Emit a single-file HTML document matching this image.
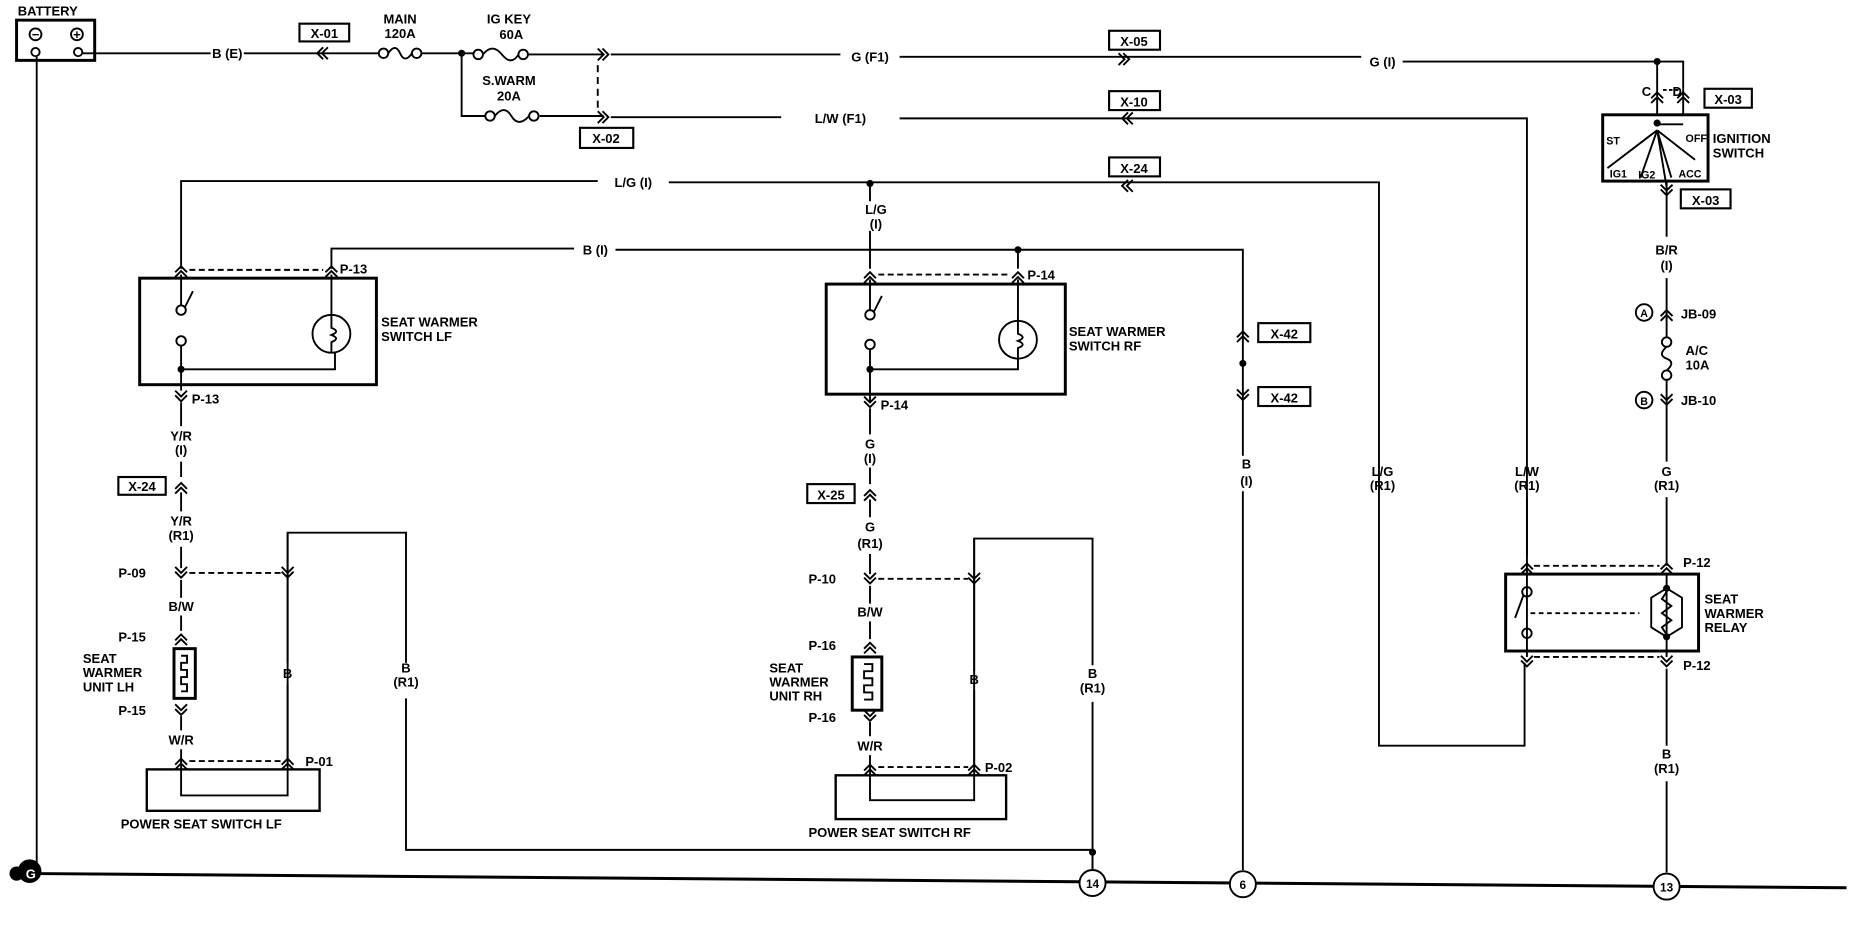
<!DOCTYPE html>
<html><head><meta charset="utf-8"><style>
html,body{margin:0;padding:0;background:#fff;width:1856px;height:928px;overflow:hidden}
svg{display:block}
text{font-family:"Liberation Sans",sans-serif;font-weight:bold;font-size:11px;fill:#000}
.m{text-anchor:middle}
</style></head><body>
<svg width="1856" height="928" viewBox="0 0 1568 784" preserveAspectRatio="none" xmlns="http://www.w3.org/2000/svg">
<defs>
<g id="up"><path d="M-5 3 L0 -2 L5 3 M-5 7 L0 2 L5 7" fill="none" stroke="#000" stroke-width="1.6"/></g>
<g id="dn"><path d="M-5 -3 L0 2 L5 -3 M-5 -7 L0 -2 L5 -7" fill="none" stroke="#000" stroke-width="1.6"/></g>
<g id="lt"><path d="M3 -5 L-2 0 L3 5 M7 -5 L2 0 L7 5" fill="none" stroke="#000" stroke-width="1.6"/></g>
<g id="rt"><path d="M-3 -5 L2 0 L-3 5 M-7 -5 L-2 0 L-7 5" fill="none" stroke="#000" stroke-width="1.6"/></g>
</defs>
<g fill="none" stroke="#000" stroke-width="1.6">
<!-- battery -->
<rect x="14" y="17" width="66" height="34" stroke-width="2.5"/>
<circle cx="30" cy="29" r="5"/><circle cx="65" cy="29" r="5"/>
<circle cx="30" cy="44" r="3.5"/><circle cx="66" cy="44" r="3.5"/>
<line x1="31" y1="48" x2="31" y2="735"/>
<!-- top line -->
<path d="M70 45 H178 M206 45 H320 M356 45 H400 M446 46 H510 M516 46 H710 M760 48 H1150 M1185 52 H1400 H1422 V75"/>
<path d="M390 45 V98 H410 M456 98 H510 M516 99 H660 M760 100 H1290 V470"/>
<path d="M505 55 V95" stroke-dasharray="6,4"/>
<!-- fuses -->
<circle cx="324" cy="45" r="4"/><circle cx="352" cy="45" r="4"/><path d="M328 45 Q334 36 338 45 Q342 54 348 45"/>
<circle cx="404" cy="46" r="4"/><circle cx="442" cy="46" r="4"/><path d="M408 46 Q416 36 424 46 Q432 56 438 46"/>
<circle cx="414" cy="98" r="4"/><circle cx="451" cy="98" r="4"/><path d="M418 98 Q426 88 432 98 Q438 108 447 98"/>
<!-- L/G line -->
<path d="M153 227 V153 H505 M565 154 H1165 V630 H1288 V560"/>
<path d="M735 155 V170 M735 195 V227"/>
<!-- B(I) -->
<path d="M280 227 V210 H485 M520 211 H1050 V385 M1050 415 V735"/>
<path d="M860 211 V227"/>
<!-- switch LF -->
<rect x="118" y="235" width="200" height="90" stroke-width="2.5"/>
<path d="M153 232 V258 M153 292 V330 M153 312 H283 V298 M280 232 V266"/>
<circle cx="153" cy="262" r="4"/><circle cx="153" cy="288" r="4"/><path d="M156 260 L163 246"/>
<circle cx="280" cy="282" r="16"/><path d="M280 266 V277 Q288 280 280 283 Q288 286 280 289 V298"/>
<path d="M160 228 H273" stroke-dasharray="5,3"/>
<!-- LF lower -->
<path d="M153 340 V360 M153 390 V403 M153 416 V432 M153 462 V480 M153 490 V505 M153 520 V533 M153 605 V617 M153 633 V650 V672 H243 V450 H343 V560 M343 590 V718 H923 V735"/>
<path d="M243 450 V560 M243 578 V643"/>
<rect x="147" y="548" width="18" height="42" stroke-width="2.5"/>
<path d="M153 554 H158 V560 H153 V566 H158 V572 H153 V578 H158 V584 H153"/>
<path d="M160 484 H238 M160 643 H238" stroke-dasharray="5,3"/>
<rect x="124" y="650" width="146" height="35" stroke-width="2"/>
<!-- switch RF -->
<rect x="698" y="240" width="202" height="93" stroke-width="2.5"/>
<path d="M735 236 V262 M735 295 V340 M735 312 H860 V303 M860 236 V271"/>
<circle cx="735" cy="266" r="4"/><circle cx="735" cy="291" r="4"/><path d="M738 264 L745 250"/>
<circle cx="860" cy="287" r="16"/><path d="M860 271 V282 Q868 285 860 288 Q868 291 860 294 V303"/>
<path d="M742 232 H853" stroke-dasharray="5,3"/>
<!-- RF lower -->
<path d="M735 345 V367 M735 395 V409 M735 422 V437 M735 468 V485 M735 495 V510 M735 525 V540 M735 610 V622 M735 638 V655 V676 H823 V455 H923 V562 M923 593 V735"/>
<path d="M823 455 V567 M823 583 V648"/>
<rect x="720" y="555" width="25" height="45" stroke-width="2.5"/>
<path d="M730 561 H737 V567 H730 V573 H737 V579 H730 V585 H737 V591 H730"/>
<path d="M742 489 H818 M742 648 H818" stroke-dasharray="5,3"/>
<rect x="706" y="655" width="144" height="37" stroke-width="2"/>
<!-- ignition -->
<path d="M1400 52 V97 M1422 75 V97"/>
<path d="M1405 76 H1418" stroke-dasharray="3,2"/>
<rect x="1354" y="97" width="89" height="56" stroke-width="2.5"/>
<path d="M1400 105 H1422 M1400 110 L1358 142 M1400 110 L1432 135 M1400 110 L1412 150 M1400 110 L1386 150 M1400 110 L1408 158"/>
<path d="M1408 153 V200 M1408 235 V285 M1408 320 V390 M1408 420 V478 M1408 485 V555 M1408 565 V630 M1408 660 V737"/>
<circle cx="1408" cy="289" r="4"/><circle cx="1408" cy="317" r="4"/><path d="M1408 293 Q1400 300 1408 303 Q1416 306 1408 313"/>
<circle cx="1389" cy="264" r="7"/><circle cx="1389" cy="338" r="7"/>
<line x1="1290" y1="420" x2="1290" y2="555"/>
<!-- relay -->
<rect x="1272" y="485" width="163" height="65" stroke-width="2.5"/>
<path d="M1296 478 H1402 M1296 555 H1402" stroke-dasharray="5,3"/>
<circle cx="1290" cy="500" r="4"/><circle cx="1290" cy="535" r="4"/><path d="M1287 503 L1280 522"/>
<path d="M1293 518 H1385" stroke-dasharray="4,3"/>
<path d="M1408 497 L1395 505 V530 L1408 538 L1421 530 V505 Z"/>
<path d="M1408 500 L1404 506 L1412 512 L1404 518 L1412 524 L1404 530 L1408 536"/>
<!-- ground -->
<path d="M30 738 L1560 750" stroke-width="2.5"/>
<circle cx="923" cy="746" r="11" fill="#fff"/><circle cx="1050" cy="747" r="11" fill="#fff"/><circle cx="1408" cy="749" r="11" fill="#fff"/>
</g>
<circle cx="25" cy="736" r="10" fill="#000"/><circle cx="14" cy="738" r="6" fill="#000"/>
<circle cx="390" cy="45" r="3"/><circle cx="735" cy="155" r="3"/><circle cx="860" cy="211" r="3"/><circle cx="1050" cy="307" r="3"/><circle cx="1400" cy="52" r="3"/><circle cx="1400" cy="104" r="3"/><circle cx="153" cy="312" r="3"/><circle cx="735" cy="312" r="3"/><circle cx="923" cy="720" r="3"/><circle cx="1408" cy="497" r="3"/><circle cx="1408" cy="538" r="3"/>
<text x="26" y="742" class="m" fill="#fff" style="fill:#fff">G</text>
<!-- chevrons -->
<use href="#lt" x="270" y="45"/><use href="#rt" x="512" y="46"/><use href="#rt" x="512" y="99"/>
<use href="#rt" x="952" y="50"/><use href="#lt" x="950" y="100"/><use href="#lt" x="950" y="157"/>
<use href="#up" x="153" y="227"/><use href="#up" x="280" y="227"/><use href="#dn" x="153" y="337"/>
<use href="#up" x="153" y="410"/><use href="#dn" x="153" y="486"/><use href="#dn" x="243" y="486"/>
<use href="#up" x="153" y="538"/><use href="#dn" x="153" y="602"/><use href="#up" x="153" y="643"/><use href="#up" x="243" y="643"/>
<use href="#up" x="735" y="232"/><use href="#up" x="860" y="232"/><use href="#dn" x="735" y="342"/>
<use href="#up" x="735" y="416"/><use href="#dn" x="735" y="491"/><use href="#dn" x="823" y="491"/>
<use href="#up" x="735" y="545"/><use href="#dn" x="735" y="607"/><use href="#up" x="735" y="648"/><use href="#up" x="823" y="648"/>
<use href="#up" x="1050" y="282"/><use href="#dn" x="1050" y="336"/>
<use href="#up" x="1400" y="80"/><use href="#up" x="1422" y="80"/><use href="#dn" x="1408" y="163"/>
<use href="#up" x="1408" y="264"/><use href="#dn" x="1408" y="340"/>
<use href="#up" x="1290" y="478"/><use href="#up" x="1408" y="478"/><use href="#dn" x="1290" y="561"/><use href="#dn" x="1408" y="561"/>
<!-- boxes -->
<g fill="none" stroke="#000" stroke-width="1.8">
<rect x="253" y="20" width="42" height="15"/><rect x="490" y="108" width="45" height="17"/>
<rect x="937" y="26" width="43" height="16"/><rect x="937" y="77" width="43" height="16"/><rect x="937" y="133" width="43" height="16"/>
<rect x="100" y="403" width="40" height="15"/><rect x="682" y="409" width="40" height="16"/>
<rect x="1063" y="273" width="44" height="16"/><rect x="1063" y="327" width="44" height="16"/>
<rect x="1440" y="75" width="40" height="16"/><rect x="1420" y="160" width="42" height="16"/>
</g>
<!-- text -->
<text x="15" y="13">BATTERY</text>
<text x="30" y="33" class="m">−</text><text x="65" y="33" class="m">+</text>
<text x="274" y="32" class="m">X-01</text><text x="512" y="121" class="m">X-02</text>
<text x="958" y="39" class="m">X-05</text><text x="958" y="90" class="m">X-10</text><text x="958" y="146" class="m">X-24</text>
<text x="120" y="415" class="m">X-24</text><text x="702" y="422" class="m">X-25</text>
<text x="1085" y="286" class="m">X-42</text><text x="1085" y="340" class="m">X-42</text>
<text x="1460" y="88" class="m">X-03</text><text x="1441" y="173" class="m">X-03</text>
<text x="192" y="49" class="m">B (E)</text>
<text x="338" y="20" class="m">MAIN</text><text x="338" y="32" class="m">120A</text>
<text x="430" y="20" class="m">IG KEY</text><text x="432" y="33" class="m">60A</text>
<text x="430" y="72" class="m">S.WARM</text><text x="430" y="85" class="m">20A</text>
<text x="735" y="52" class="m">G (F1)</text><text x="1168" y="56" class="m">G (I)</text>
<text x="710" y="104" class="m">L/W (F1)</text><text x="535" y="158" class="m">L/G (I)</text>
<text x="503" y="215" class="m">B (I)</text>
<text x="740" y="181" class="m">L/G</text><text x="740" y="193" class="m">(I)</text>
<text x="287" y="231">P-13</text><text x="162" y="341">P-13</text>
<text x="322" y="276">SEAT WARMER</text><text x="322" y="288">SWITCH LF</text>
<text x="153" y="372" class="m">Y/R</text><text x="153" y="384" class="m">(I)</text>
<text x="153" y="444" class="m">Y/R</text><text x="153" y="456" class="m">(R1)</text>
<text x="100" y="488">P-09</text><text x="153" y="516" class="m">B/W</text>
<text x="100" y="542">P-15</text><text x="100" y="604">P-15</text>
<text x="70" y="560">SEAT</text><text x="70" y="572">WARMER</text><text x="70" y="584">UNIT LH</text>
<text x="153" y="629" class="m">W/R</text><text x="258" y="647">P-01</text>
<text x="243" y="573" class="m">B</text><text x="343" y="568" class="m">B</text><text x="343" y="580" class="m">(R1)</text>
<text x="102" y="700">POWER SEAT SWITCH LF</text>
<text x="868" y="236">P-14</text><text x="744" y="346">P-14</text>
<text x="903" y="284">SEAT WARMER</text><text x="903" y="296">SWITCH RF</text>
<text x="735" y="379" class="m">G</text><text x="735" y="391" class="m">(I)</text>
<text x="735" y="449" class="m">G</text><text x="735" y="463" class="m">(R1)</text>
<text x="683" y="493">P-10</text><text x="735" y="521" class="m">B/W</text>
<text x="683" y="549">P-16</text><text x="683" y="610">P-16</text>
<text x="650" y="568">SEAT</text><text x="650" y="580">WARMER</text><text x="650" y="592">UNIT RH</text>
<text x="735" y="634" class="m">W/R</text><text x="832" y="652">P-02</text>
<text x="823" y="578" class="m">B</text><text x="923" y="573" class="m">B</text><text x="923" y="585" class="m">(R1)</text>
<text x="683" y="707">POWER SEAT SWITCH RF</text>
<text x="1053" y="396" class="m">B</text><text x="1053" y="410" class="m">(I)</text>
<text x="1168" y="402" class="m">L/G</text><text x="1168" y="414" class="m">(R1)</text>
<text x="1290" y="402" class="m">L/W</text><text x="1290" y="414" class="m">(R1)</text>
<text x="1408" y="402" class="m">G</text><text x="1408" y="414" class="m">(R1)</text>
<text x="1391" y="81" class="m">C</text><text x="1417" y="81" class="m">D</text>
<text x="1357" y="122" style="font-size:9px">ST</text><text x="1424" y="120" style="font-size:9px">OFF</text>
<text x="1360" y="150" style="font-size:9px">IG1</text><text x="1384" y="151" style="font-size:9px">IG2</text><text x="1418" y="150" style="font-size:9px">ACC</text>
<text x="1447" y="121">IGNITION</text><text x="1447" y="133">SWITCH</text>
<text x="1408" y="215" class="m">B/R</text><text x="1408" y="228" class="m">(I)</text>
<text x="1389" y="268" class="m" style="font-size:9px">A</text><text x="1389" y="342" class="m" style="font-size:9px">B</text>
<text x="1420" y="269">JB-09</text><text x="1420" y="342">JB-10</text>
<text x="1424" y="300">A/C</text><text x="1424" y="312">10A</text>
<text x="1422" y="479">P-12</text><text x="1422" y="566">P-12</text>
<text x="1440" y="510">SEAT</text><text x="1440" y="522">WARMER</text><text x="1440" y="534">RELAY</text>
<text x="1408" y="641" class="m">B</text><text x="1408" y="653" class="m">(R1)</text>
<text x="923" y="750" class="m" style="font-size:10px">14</text><text x="1050" y="751" class="m" style="font-size:10px">6</text><text x="1408" y="753" class="m" style="font-size:10px">13</text>
</svg>
</body></html>
